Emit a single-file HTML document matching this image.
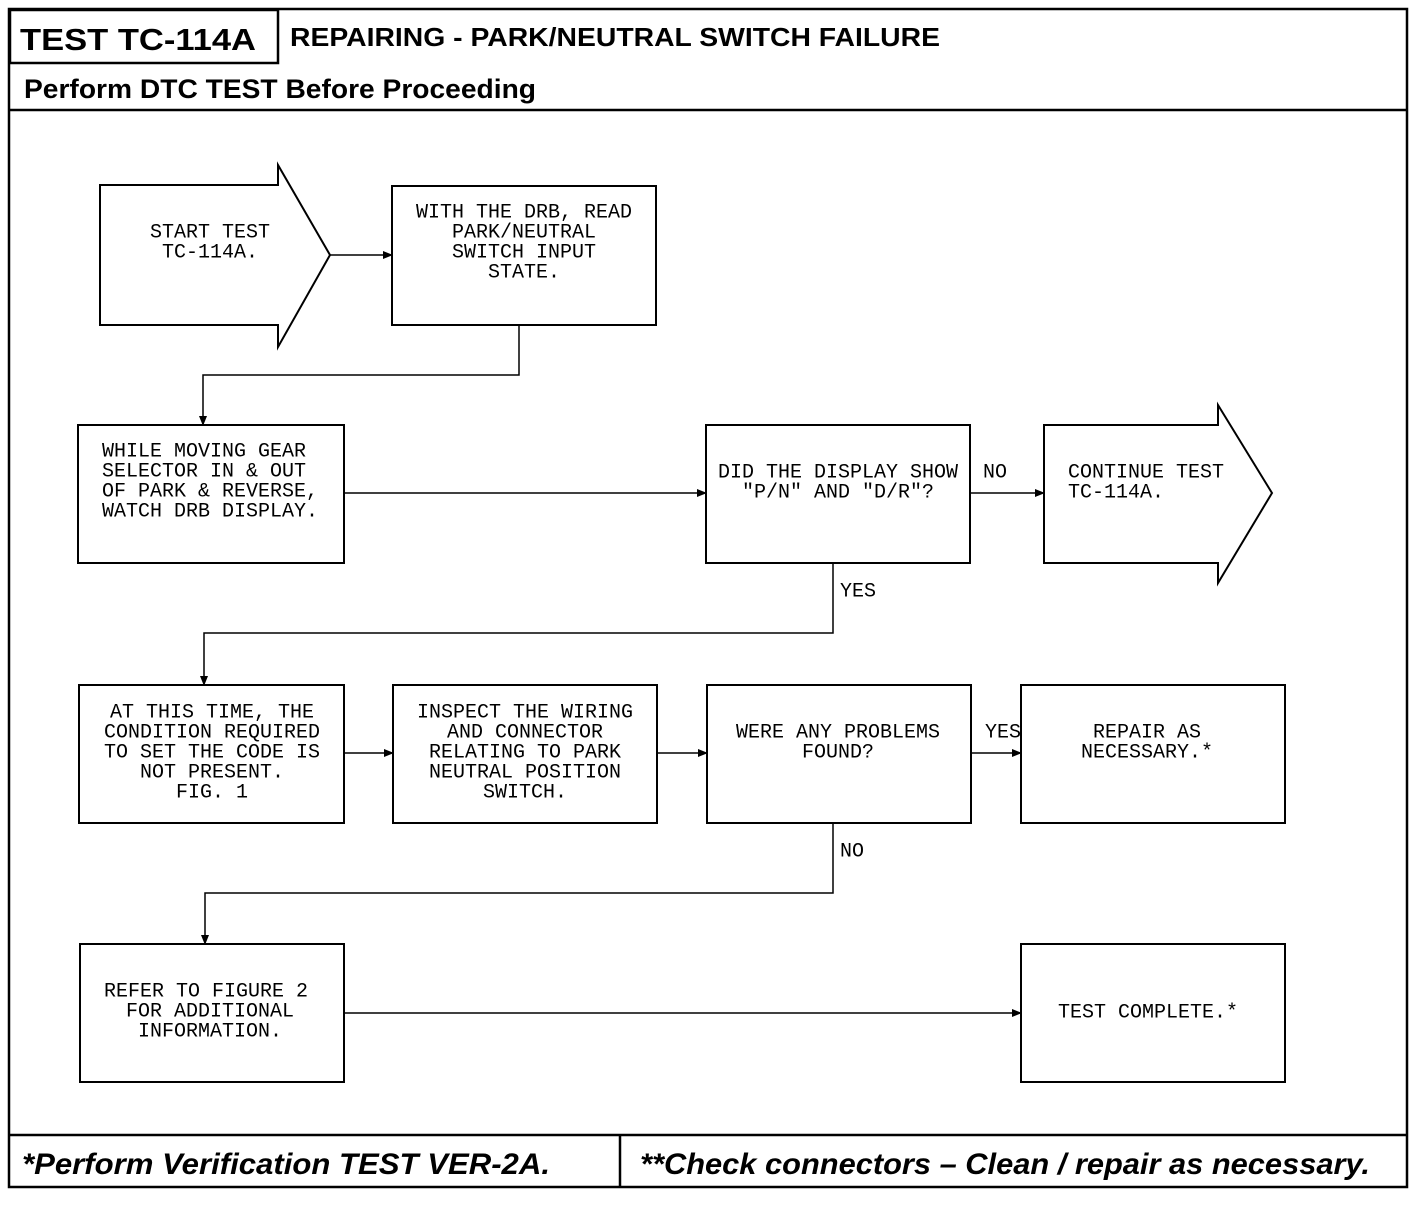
<!DOCTYPE html>
<html><head><meta charset="utf-8"><style>
html,body{margin:0;padding:0;background:#fff}
svg{display:block}
.m{font-family:"Liberation Mono",monospace;font-size:20px;fill:#000}
.h{font-family:"Liberation Sans",sans-serif;font-weight:bold;fill:#000}
</style></head><body>
<svg width="1424" height="1210" viewBox="0 0 1424 1210" xmlns="http://www.w3.org/2000/svg">
<defs><marker id="a" markerWidth="10" markerHeight="8" refX="9" refY="4" orient="auto" markerUnits="userSpaceOnUse"><path d="M0,0 L10,4 L0,8 z" fill="#000"/></marker></defs>
<g fill="none" stroke="#000" stroke-width="2.5">
<rect x="9" y="9" width="1398" height="1178"/>
<rect x="10" y="10" width="268" height="53"/>
<line x1="9" y1="110" x2="1407" y2="110"/>
<line x1="9" y1="1135" x2="1407" y2="1135"/>
<line x1="620" y1="1135" x2="620" y2="1187"/>
</g>
<text class="h" x="20" y="50" font-size="31" textLength="236" lengthAdjust="spacingAndGlyphs">TEST TC-114A</text>
<text class="h" x="290" y="46" font-size="26" textLength="650" lengthAdjust="spacingAndGlyphs">REPAIRING - PARK/NEUTRAL SWITCH FAILURE</text>
<text class="h" x="24" y="98" font-size="27" textLength="512" lengthAdjust="spacingAndGlyphs">Perform DTC TEST Before Proceeding</text>
<text class="h" x="22" y="1174" font-size="30" font-style="italic" textLength="528" lengthAdjust="spacingAndGlyphs">*Perform Verification TEST VER-2A.</text>
<text class="h" x="640" y="1174" font-size="30" font-style="italic" textLength="730" lengthAdjust="spacingAndGlyphs">**Check connectors – Clean / repair as necessary.</text>

<g fill="none" stroke="#000" stroke-width="2">
<path d="M100,185 L278,185 L278,165 L330,255 L278,347 L278,325 L100,325 Z"/>
<rect x="392" y="186" width="264" height="139"/>
<rect x="78" y="425" width="266" height="138"/>
<rect x="706" y="425" width="264" height="138"/>
<path d="M1044,425 L1218,425 L1218,405 L1272,493 L1218,583 L1218,563 L1044,563 Z"/>
<rect x="79" y="685" width="265" height="138"/>
<rect x="393" y="685" width="264" height="138"/>
<rect x="707" y="685" width="264" height="138"/>
<rect x="1021" y="685" width="264" height="138"/>
<rect x="80" y="944" width="264" height="138"/>
<rect x="1021" y="944" width="264" height="138"/>
</g>
<g fill="none" stroke="#000" stroke-width="1.5" marker-end="url(#a)">
<path d="M330,255 L392,255"/>
<path d="M519,325 L519,375 L203,375 L203,425"/>
<path d="M344,493 L706,493"/>
<path d="M970,493 L1044,493"/>
<path d="M833,563 L833,633 L204,633 L204,685"/>
<path d="M344,753 L393,753"/>
<path d="M657,753 L707,753"/>
<path d="M971,753 L1021,753"/>
<path d="M833,823 L833,893 L205,893 L205,944"/>
<path d="M344,1013 L1021,1013"/>
</g>
<g class="m" text-anchor="middle" dominant-baseline="central">
<text x="210" y="233">START TEST</text>
<text x="210" y="253">TC-114A.</text>
<text x="524" y="213">WITH THE DRB, READ</text>
<text x="524" y="233">PARK/NEUTRAL</text>
<text x="524" y="253">SWITCH INPUT</text>
<text x="524" y="273">STATE.</text>
<text x="838" y="493">"P/N" AND "D/R"?</text>
<text x="212" y="713">AT THIS TIME, THE</text>
<text x="212" y="733">CONDITION REQUIRED</text>
<text x="212" y="753">TO SET THE CODE IS</text>
<text x="212" y="773">NOT PRESENT.</text>
<text x="212" y="793">FIG. 1</text>
<text x="525" y="713">INSPECT THE WIRING</text>
<text x="525" y="733">AND CONNECTOR</text>
<text x="525" y="753">RELATING TO PARK</text>
<text x="525" y="773">NEUTRAL POSITION</text>
<text x="525" y="793">SWITCH.</text>
<text x="838" y="733">WERE ANY PROBLEMS</text>
<text x="838" y="753">FOUND?</text>
<text x="1147" y="733">REPAIR AS</text>
<text x="1147" y="753">NECESSARY.*</text>
<text x="206" y="992">REFER TO FIGURE 2</text>
<text x="210" y="1012">FOR ADDITIONAL</text>
<text x="210" y="1032">INFORMATION.</text>
<text x="1148" y="1013">TEST COMPLETE.*</text>
</g>
<g class="m" dominant-baseline="central">
<text x="102" y="452">WHILE MOVING GEAR</text>
<text x="102" y="472">SELECTOR IN &amp; OUT</text>
<text x="102" y="492">OF PARK &amp; REVERSE,</text>
<text x="102" y="512">WATCH DRB DISPLAY.</text>
<text x="718" y="473">DID THE DISPLAY SHOW</text>
<text x="983" y="473">NO</text>
<text x="1068" y="473">CONTINUE TEST</text>
<text x="1068" y="493">TC-114A.</text>
<text x="840" y="592">YES</text>
<text x="985" y="733">YES</text>
<text x="840" y="852">NO</text>
</g>
</svg>
</body></html>
